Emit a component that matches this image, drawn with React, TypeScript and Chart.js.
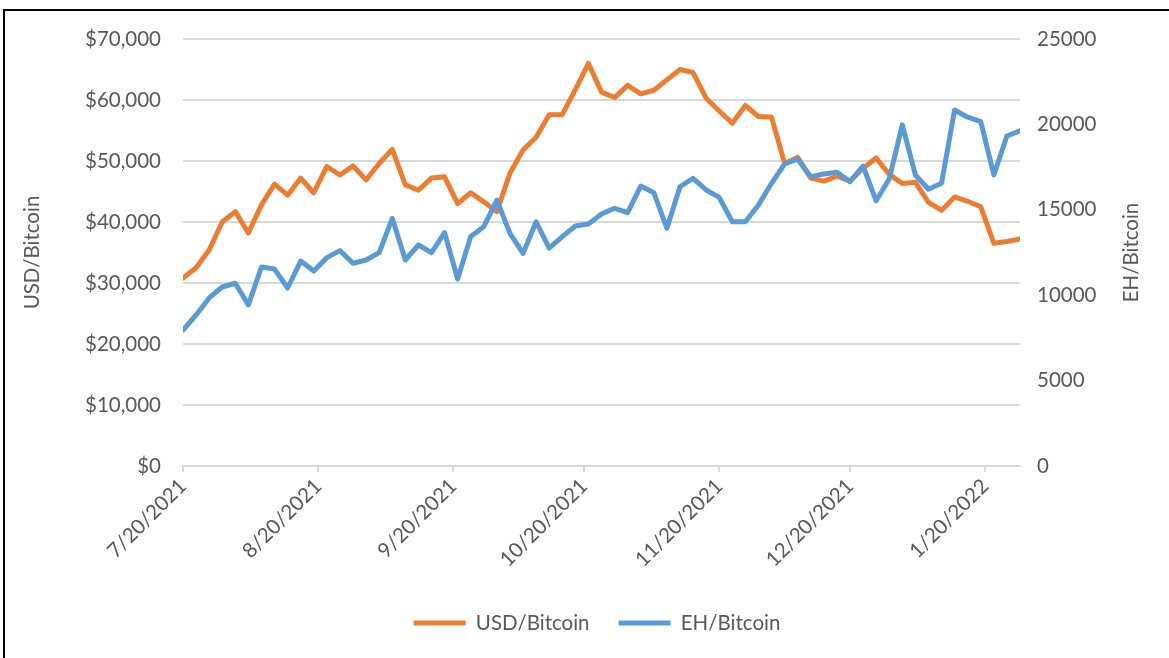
import React, { useEffect, useRef } from "react";
import { Chart, registerables } from "chart.js";

Chart.register(...registerables);

const dates = [
  "2021-07-20", "2021-07-23", "2021-07-26", "2021-07-29",
  "2021-08-01", "2021-08-04", "2021-08-07", "2021-08-10", "2021-08-13", "2021-08-16", "2021-08-19", "2021-08-22", "2021-08-25", "2021-08-28", "2021-08-31",
  "2021-09-03", "2021-09-06", "2021-09-09", "2021-09-12", "2021-09-15", "2021-09-18", "2021-09-21", "2021-09-24", "2021-09-27", "2021-09-30",
  "2021-10-03", "2021-10-06", "2021-10-09", "2021-10-12", "2021-10-15", "2021-10-18", "2021-10-21", "2021-10-24", "2021-10-27", "2021-10-30",
  "2021-11-02", "2021-11-05", "2021-11-08", "2021-11-11", "2021-11-14", "2021-11-17", "2021-11-20", "2021-11-23", "2021-11-26", "2021-11-29",
  "2021-12-02", "2021-12-05", "2021-12-08", "2021-12-11", "2021-12-14", "2021-12-17", "2021-12-20", "2021-12-23", "2021-12-26", "2021-12-29",
  "2022-01-01", "2022-01-04", "2022-01-07", "2022-01-10", "2022-01-13", "2022-01-16", "2022-01-19", "2022-01-22", "2022-01-25", "2022-01-28",
];

const usdPerBitcoin = [
  30800, 32500, 35400, 40000, 41700, 38200, 42800, 46200, 44400, 47200,
  44800, 49100, 47700, 49200, 46900, 49600, 51900, 46100, 45200, 47200,
  47400, 43000, 44800, 43300, 41700, 48000, 51800, 53900, 57600, 57600,
  61700, 66000, 61300, 60400, 62400, 61000, 61600, 63300, 65000, 64500,
  60300, 58200, 56200, 59100, 57300, 57200, 49600, 50600, 47200, 46700,
  47500, 46700, 48800, 50500, 47800, 46300, 46500, 43200, 41900, 44100,
  43400, 42500, 36500, 36800, 37200,
];

const ehPerBitcoin = [
  7960, 8840, 9840, 10480, 10700, 9430, 11650, 11530, 10420, 12000,
  11420, 12200, 12610, 11870, 12060, 12490, 14500, 12060, 12940, 12490,
  13660, 10950, 13430, 14010, 15570, 13620, 12450, 14300, 12750, 13430,
  14050, 14170, 14750, 15090, 14830, 16390, 16000, 13920, 16350, 16840,
  16160, 15730, 14300, 14300, 15280, 16550, 17680, 17960, 16940, 17100,
  17200, 16650, 17560, 15530, 16800, 19970, 17040, 16200, 16550, 20840,
  20420, 20160, 17040, 19320, 19630,
];

const xTickLabels = ["7/20/2021", "8/20/2021", "9/20/2021", "10/20/2021", "11/20/2021", "12/20/2021", "1/20/2022"];

const seriesNames = ["USD/Bitcoin", "EH/Bitcoin"];
const leftAxisTitle = "USD/Bitcoin";
const rightAxisTitle = "EH/Bitcoin";

const DAY = 86400000;
const t0 = Date.parse(dates[0] + "T00:00:00Z");
const dayOffsetIso = (iso: string) => Math.round((Date.parse(iso + "T00:00:00Z") - t0) / DAY);
const dayOffsetUs = (label: string) => {
  const [m, d, y] = label.split("/").map(Number);
  return Math.round((Date.UTC(y, m - 1, d) - t0) / DAY);
};

const FONT = "Lato, 'Open Sans', sans-serif";
const FS = 20.5;
const TEXT = "#595959";
const GRID = "#D9D9D9";
const ORANGE = "#ED7D31";
const BLUE = "#5B9BD5";

export default function App() {
  const ref = useRef<HTMLCanvasElement | null>(null);

  useEffect(() => {
    if (!ref.current) return;
    const xs = dates.map(dayOffsetIso);
    const tickMap = new Map<number, string>();
    xTickLabels.forEach((l) => tickMap.set(dayOffsetUs(l), l));

    const axisTitlesPlugin = {
      id: "axisTitles",
      afterDraw(chart: any) {
        const { ctx, chartArea } = chart;
        const cy = (chartArea.top + chartArea.bottom) / 2;
        ctx.save();
        ctx.fillStyle = TEXT;
        ctx.font = `${FS}px ${FONT}`;
        ctx.textAlign = "center";
        ctx.textBaseline = "middle";
        ctx.save();
        ctx.translate(32, cy);
        ctx.rotate(-Math.PI / 2);
        ctx.fillText(leftAxisTitle, 0, 0);
        ctx.restore();
        ctx.save();
        ctx.translate(1131, cy);
        ctx.rotate(-Math.PI / 2);
        ctx.fillText(rightAxisTitle, 0, 0);
        ctx.restore();
        ctx.restore();
      },
    };

    const chart = new Chart(ref.current, {
      type: "line",
      data: {
        datasets: [
          {
            label: seriesNames[0],
            data: usdPerBitcoin.map((v, i) => ({ x: xs[i], y: v })),
            borderColor: ORANGE,
            backgroundColor: ORANGE,
            borderWidth: 5,
            pointRadius: 0,
            tension: 0,
            borderJoinStyle: "round",
            borderCapStyle: "round",
            yAxisID: "y",
            order: 2,
          },
          {
            label: seriesNames[1],
            data: ehPerBitcoin.map((v, i) => ({ x: xs[i], y: v })),
            borderColor: BLUE,
            backgroundColor: BLUE,
            borderWidth: 5,
            pointRadius: 0,
            tension: 0,
            borderJoinStyle: "round",
            borderCapStyle: "round",
            yAxisID: "y1",
            order: 1,
          },
        ],
      },
      options: {
        responsive: false,
        maintainAspectRatio: false,
        animation: false,
        devicePixelRatio: 1,
        layout: { padding: { top: 39, left: 25, right: 0, bottom: 14.75 } },
        plugins: {
          title: { display: false },
          tooltip: { enabled: false },
          legend: {
            position: "bottom",
            labels: {
              color: TEXT,
              font: { family: FONT, size: FS },
              boxWidth: 52,
              boxHeight: 5,
              padding: 29,
              sort: (a: any, b: any) => a.datasetIndex - b.datasetIndex,
              generateLabels: (c: any) =>
                (Chart.defaults.plugins.legend.labels.generateLabels as any)(c).map((l: any) => ({ ...l, lineWidth: 0 })),
            },
          },
        },
        scales: {
          x: {
            type: "linear",
            min: 0,
            max: xs[xs.length - 1],
            afterBuildTicks: (scale: any) => {
              scale.ticks = xTickLabels.map((l) => ({ value: dayOffsetUs(l) }));
            },
            afterFit: (scale: any) => {
              scale.height = 117.75;
            },
            ticks: {
              autoSkip: false,
              maxRotation: 45,
              minRotation: 45,
              color: TEXT,
              font: { family: FONT, size: FS },
              padding: 2,
              callback: (v: any) => tickMap.get(Number(v)) ?? "",
            },
            grid: { drawOnChartArea: false, drawTicks: true, tickLength: 6, color: GRID, lineWidth: 2 },
            border: { display: true, color: GRID, width: 2 },
          },
          y: {
            type: "linear",
            position: "left",
            min: 0,
            max: 70000,
            afterFit: (scale: any) => {
              scale.width = 158;
            },
            ticks: {
              stepSize: 10000,
              color: TEXT,
              font: { family: FONT, size: FS },
              padding: 22,
              callback: (v: any) => "$" + Number(v).toLocaleString("en-US"),
            },
            grid: { color: GRID, lineWidth: 2, drawTicks: false },
            border: { display: false },
          },
          y1: {
            type: "linear",
            position: "right",
            min: 0,
            max: 25000,
            afterFit: (scale: any) => {
              scale.width = 149;
            },
            ticks: {
              stepSize: 5000,
              color: TEXT,
              font: { family: FONT, size: FS },
              padding: 17,
              callback: (v: any) => String(v),
            },
            grid: { drawOnChartArea: false, drawTicks: false },
            border: { display: false },
          },
        },
      },
      plugins: [axisTitlesPlugin],
    } as any);

    return () => chart.destroy();
  }, []);

  return (
    <div style={{ position: "fixed", left: 0, top: 0, width: 1169, height: 658, overflow: "hidden", background: "#fff" }}>
      <div
        style={{
          position: "absolute",
          left: 3,
          top: 9,
          width: 1300,
          height: 800,
          border: "2px solid #000",
          boxSizing: "border-box",
        }}
      />
      <canvas ref={ref} width={1169} height={658} style={{ position: "absolute", left: 0, top: 0, width: 1169, height: 658 }} />
    </div>
  );
}
